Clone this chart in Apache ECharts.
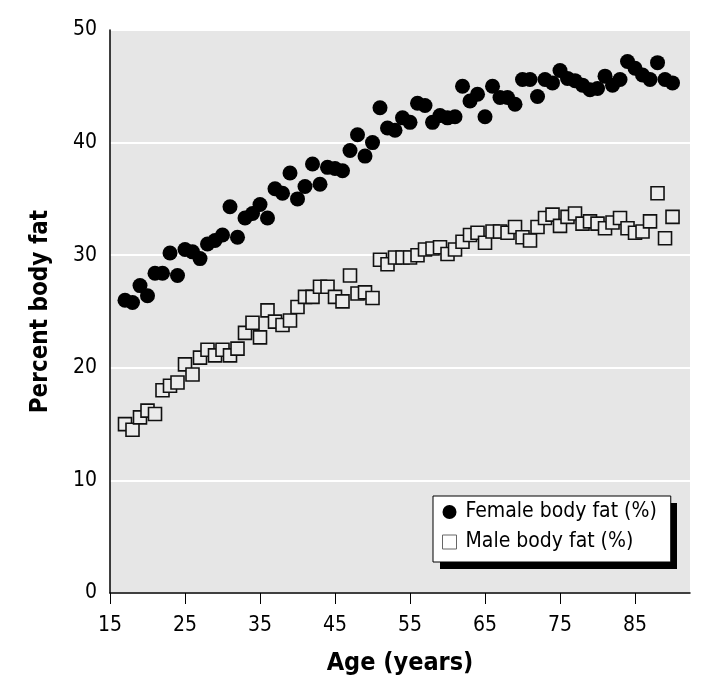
<!DOCTYPE html>
<html>
<head>
<meta charset="utf-8">
<script src="https://cdn.jsdelivr.net/npm/echarts@6/dist/echarts.min.js"></script>
<style>html,body{margin:0;padding:0;background:#fff}#c{width:709px;height:695px}</style>
</head>
<body>
<div id="c"></div>
<script>
const ages = [17,18,19,20,21,22,23,24,25,26,27,28,29,30,31,32,33,34,35,36,37,38,39,40,41,42,43,44,45,46,47,48,49,50,51,52,53,54,55,56,57,58,59,60,61,62,63,64,65,66,67,68,69,70,71,72,73,74,75,76,77,78,79,80,81,82,83,84,85,86,87,88,89,90];
const femaleFat = [26.0,25.8,27.3,26.4,28.4,28.4,30.2,28.2,30.5,30.3,29.7,31.0,31.3,31.8,34.3,31.6,33.3,33.7,34.5,33.3,35.9,35.5,37.3,35.0,36.1,38.1,36.3,37.8,37.7,37.5,39.3,40.7,38.8,40.0,43.1,41.3,41.1,42.2,41.8,43.5,43.3,41.8,42.4,42.2,42.3,45.0,43.7,44.3,42.3,45.0,44.0,44.0,43.4,45.6,45.6,44.1,45.6,45.3,46.4,45.7,45.5,45.1,44.7,44.8,45.9,45.1,45.6,47.2,46.6,46.0,45.6,47.1,45.6,45.3];
const maleFat = [15.0,14.5,15.6,16.2,15.9,18.0,18.4,18.7,20.3,19.4,20.9,21.6,21.1,21.6,21.1,21.7,23.1,24.0,22.7,25.1,24.1,23.8,24.2,25.4,26.3,26.3,27.2,27.2,26.3,25.9,28.2,26.6,26.7,26.2,29.6,29.2,29.8,29.8,29.8,30.0,30.5,30.6,30.7,30.1,30.5,31.2,31.8,32.0,31.1,32.1,32.1,32.0,32.5,31.6,31.3,32.5,33.3,33.6,32.6,33.4,33.7,32.8,33.0,32.8,32.4,32.9,33.3,32.4,32.0,32.1,33.0,35.5,31.5,33.4];
const xTicks = [15,25,35,45,55,65,75,85];
const yTicks = [0,10,20,30,40,50];

const font = '"DejaVu Sans Condensed","Liberation Sans Narrow","Liberation Sans",sans-serif';
const chart = echarts.init(document.getElementById('c'), null, {renderer:'canvas'});
chart.setOption({
  animation:false,
  backgroundColor:'#fff',
  grid:{left:110, top:30, width:580, height:563, show:true, backgroundColor:'#e6e6e6', borderWidth:0},
  graphic:[
    {type:'rect', left:440, top:503, shape:{width:237, height:66}, style:{fill:'#000'}, z:3}
  ],
  xAxis:{
    type:'value', min:15, max:92.33,
    name:'Age (years)', nameLocation:'middle', nameGap:58,
    nameTextStyle:{fontFamily:font, fontSize:25, fontWeight:'bold', color:'#000'},
    axisLine:{lineStyle:{color:'#000', width:1.5}},
    axisTick:{show:true, length:11, customValues:xTicks, lineStyle:{color:'#000', width:1}},
    axisLabel:{customValues:xTicks, fontFamily:font, fontSize:21, color:'#000', margin:22},
    splitLine:{show:false}
  },
  yAxis:{
    type:'value', min:0, max:50, interval:10,
    name:'Percent body fat', nameLocation:'middle', nameGap:57,
    nameTextStyle:{fontFamily:font, fontSize:24, fontWeight:'bold', color:'#000'},
    axisLine:{show:true, lineStyle:{color:'#000', width:1.5}},
    axisTick:{show:false},
    axisLabel:{fontFamily:font, fontSize:21, color:'#000', margin:13},
    splitLine:{show:true, lineStyle:{color:'#fff', width:2}}
  },
  legend:{
    orient:'vertical', left:433, top:496, z:5,
    backgroundColor:'#fff', borderColor:'#000', borderWidth:1,
    padding:[5,14,9,9], itemGap:8, itemWidth:14, itemHeight:14,
    textStyle:{fontFamily:font, fontSize:21, lineHeight:22, color:'#000', padding:[0,0,0,4]},
    data:[
      {name:'Female body fat (%)', icon:'circle', itemStyle:{color:'#000', borderWidth:0}},
      {name:'Male body fat (%)', icon:'rect', itemStyle:{color:'#fff', borderColor:'#666', borderWidth:1}}
    ]
  },
  series:[
    {name:'Male body fat (%)', type:'scatter', symbol:'rect', symbolSize:13,
     itemStyle:{color:'#ebebeb', borderColor:'#111', borderWidth:1.6, opacity:1},
     data:ages.map((a,i)=>[a, maleFat[i]])},
    {name:'Female body fat (%)', type:'scatter', symbol:'circle', symbolSize:15,
     itemStyle:{color:'#000', opacity:1},
     data:ages.map((a,i)=>[a, femaleFat[i]])}
  ]
});
</script>
</body>
</html>
